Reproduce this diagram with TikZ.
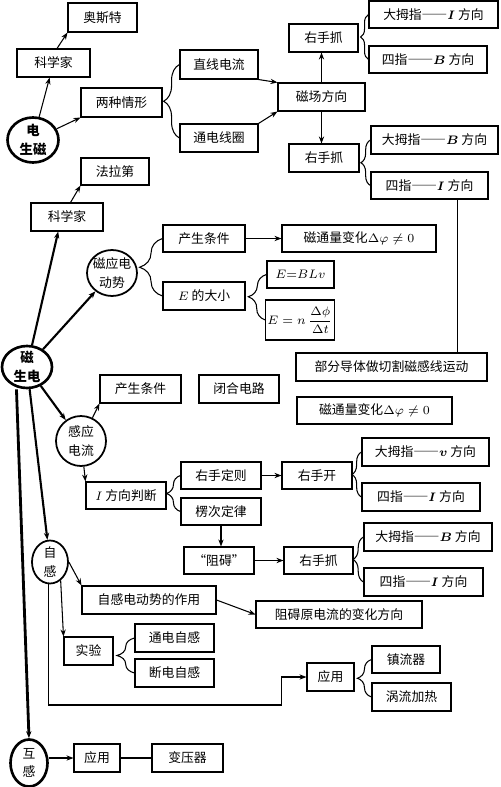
\documentclass[tikz,border=0pt]{standalone}
\usepackage{amsmath}
\usepackage{fontspec}
\setmainfont{Noto Sans CJK SC}
\newcommand\wdash{{\addfontfeatures{RawFeature=+fwid}——}}
\usetikzlibrary{shapes.geometric,arrows.meta,decorations.pathreplacing,calc}

\begin{document}
\begin{tikzpicture}[
  x=0.02cm, y=-0.02cm,
  font=\fontsize{7.3}{9}\selectfont,
  every node/.style={align=center},
  %% ─── 節點樣式定義 ────────────────────────────────────────────────
  box/.style={
    draw, line width=0.6pt, minimum height=0.56cm, inner sep=1pt},
  topic/.style={
    ellipse, draw, line width=1pt, inner sep=-3pt,
    font=\fontsize{7.3}{10.5}\selectfont},
  hub/.style={
    topic, line width=1.5pt, font=\fontsize{7.6}{10.5}\selectfont\bfseries},
  arrow/.style={-{Stealth[length=4pt,width=3pt]}, line width=0.6pt},
  barrow/.style={arrow, line width=1.2pt},
  xarrow/.style={arrow, line width=1.6pt},
  curly/.style={decorate, decoration={brace, amplitude=#1}, line width=0.6pt}
]
  \useasboundingbox (0,0) rectangle (500,787);

  %% ─── 1. 電生磁 ──────────────────────────────────────────────────
  \node[hub, minimum width=1.02cm, minimum height=0.9cm] (DSC) at (33,140) {电\\生磁};
  \node[box, minimum width=1.46cm] (Sci1) at (53.5,63) {科学家};
  \node[box, minimum width=1.38cm, minimum height=0.58cm] (Oersted) at (102.5,17.5) {奥斯特};
  \node[box, minimum width=1.62cm, minimum height=0.58cm] (TwoCase) at (121.5,102.5) {两种情形};
  \node[box, minimum width=1.56cm, minimum height=0.58cm] (Line) at (219,64.5) {直线电流};
  \node[box, minimum width=1.56cm] (Coil) at (219,138) {通电线圈};
  \node[box, minimum width=1.74cm] (Field) at (321.5,97) {磁场方向};
  \node[box, minimum width=1.38cm] (Grip1) at (323.5,38) {右手抓};
  \node[box, minimum width=2.58cm, minimum height=0.54cm] (Thumb1) at (433.5,14.5) {大拇指\wdash$\boldsymbol{I}$ 方向};
  \node[box, minimum width=2.36cm, minimum height=0.54cm] (Four1) at (428,59.5) {四指\wdash$\boldsymbol{B}$ 方向};
  \node[box, minimum width=1.40cm] (Grip2) at (324,158) {右手抓};
  \node[box, minimum width=2.54cm] (Thumb2) at (434.5,140) {大拇指\wdash$\boldsymbol{B}$ 方向};
  \node[box, minimum width=2.34cm, minimum height=0.54cm] (Four2) at (429.5,185.5) {四指\wdash$\boldsymbol{I}$ 方向};

  %% ─── 2. 磁生電：電動勢 ──────────────────────────────────────────
  \node[hub, minimum width=1.0cm, minimum height=0.84cm] (CSD) at (27,367) {磁\\生电};
  \node[box, minimum width=1.44cm] (Sci2) at (67,217) {科学家};
  \node[box, minimum width=1.36cm, minimum height=0.54cm] (Faraday) at (115,171.5) {法拉第};
  \node[topic, minimum width=1.0cm, minimum height=0.92cm] (EMF) at (112,273) {磁应电\\动势};
  \node[box, minimum width=1.64cm, minimum height=0.54cm] (Cond1) at (204,238.5) {产生条件};
  \node[box, minimum width=1.64cm] (Esize) at (204,296) {$E$ 的大小};
  \node[box, minimum width=3.08cm, minimum height=0.54cm] (Flux1) at (359,238.5) {磁通量变化$\Delta\varphi\neq0$};
  \node[box, minimum width=1.34cm, minimum height=0.54cm] (BLv) at (300.5,274.5) {$E{=}BLv$};
  \node[box, minimum width=1.32cm, minimum height=0.80cm] (Nform) at (300,320) {$E=n\,\dfrac{\Delta\phi}{\Delta t}$};
  \node[box, minimum width=3.82cm] (Cut) at (391.5,367) {部分导体做切割磁感线运动};

  %% ─── 3. 磁生電：感應電流 ────────────────────────────────────────
  \node[box, minimum width=1.62cm] (Cond2) at (140.5,389) {产生条件};
  \node[box, minimum width=1.60cm] (Closed) at (239,389) {闭合电路};
  \node[box, minimum width=3.10cm, minimum height=0.54cm] (Flux2) at (374.5,410.5) {磁通量变化$\Delta\varphi\neq0$};
  \node[topic, minimum width=1.0cm, minimum height=1.0cm] (Induced) at (81,441) {感应\\电流};
  \node[box, minimum width=1.60cm, minimum height=0.54cm] (Idir) at (126,495.5) {$I$ 方向判断};
  \node[box, minimum width=1.60cm, minimum height=0.54cm] (RHR) at (221,475.5) {右手定则};
  \node[box, minimum width=1.60cm, minimum height=0.54cm] (Lenz) at (221,511.5) {楞次定律};
  \node[box, minimum width=1.40cm, minimum height=0.54cm] (Oppose) at (219,560.5) {“阻碍”};
  \node[box, minimum width=1.40cm, minimum height=0.54cm] (Open) at (317,475.5) {右手开};
  \node[box, minimum width=2.54cm] (Thumb3) at (425.5,452) {大拇指\wdash$\boldsymbol{v}$ 方向};
  \node[box, minimum width=2.36cm] (Four3) at (421,497) {四指\wdash$\boldsymbol{I}$ 方向};
  \node[box, minimum width=1.38cm, minimum height=0.54cm] (Grip3) at (318.5,560.5) {右手抓};
  \node[box, minimum width=2.56cm] (Thumb4) at (428,537) {大拇指\wdash$\boldsymbol{B}$ 方向};
  \node[box, minimum width=2.38cm] (Four4) at (423.5,582) {四指\wdash$\boldsymbol{I}$ 方向};

  %% ─── 4. 自感與互感 ──────────────────────────────────────────────
  \node[topic, minimum width=0.72cm, minimum height=0.86cm] (Self) at (50,562) {自\\感};
  \node[box, minimum width=2.68cm] (SelfRole) at (149,600) {自感电动势的作用};
  \node[box, minimum width=3.32cm, minimum height=0.54cm] (OppChange) at (339,614.5) {阻碍原电流的变化方向};
  \node[box, minimum width=0.98cm] (Exp) at (88.5,651) {实验};
  \node[box, minimum width=1.58cm] (OnSelf) at (174.5,638) {通电自感};
  \node[box, minimum width=1.58cm] (OffSelf) at (174.5,673) {断电自感};
  \node[box, minimum width=0.94cm] (App1) at (330.5,677) {应用};
  \node[box, minimum width=1.36cm, minimum height=0.54cm] (Ballast) at (406,659.5) {镇流器};
  \node[box, minimum width=1.58cm] (Eddy) at (411.5,697) {涡流加热};
  \node[hub, minimum width=0.74cm, minimum height=0.94cm, font=\fontsize{7.3}{10.5}\selectfont] (Mutual) at (29,763) {互\\感};
  \node[box, minimum width=0.92cm] (App2) at (97,758) {应用};
  \node[box, minimum width=1.42cm] (Trans) at (187.5,758) {变压器};

  %% ─── 5. 連線 ────────────────────────────────────────────────────
  % 電生磁分支
  \draw[arrow] (DSC) -- (Sci1);
  \draw[arrow] ([xshift=2pt]Sci1.north) -- (Oersted.south west);
  \draw[arrow] (DSC) -- (TwoCase.south west);
  \draw[curly=9pt] (Coil.west) -- (Line.west);
  \draw[arrow] (Line.south east) -- (Field.north west);
  \draw[arrow] (Coil.north east) -- (Field.south west);
  \draw[arrow] (Field.north) -- (Field.north |- Grip1.south);
  \draw[arrow] (Field.south) -- (Field.south |- Grip2.north);
  \draw[curly=4.5pt] (Four1.west) -- (Thumb1.west);
  \draw[curly=5.5pt] (Four2.west) -- (Thumb2.west);
  \draw ([xshift=15.6pt]Four2.south) -- ([xshift=15.6pt]Four2.south |- Cut.north);

  % 電動勢
  \draw[barrow] (CSD) -- ([xshift=-5pt]Sci2.south);
  \draw[arrow] ([xshift=2pt]Sci2.north) -- (Faraday.south west);
  \draw[barrow] (CSD) -- (EMF);
  \draw[curly=13pt] (Esize.west) -- (Cond1.west);
  \draw[arrow] (Cond1) -- (Flux1);
  \draw[curly=10pt] (Nform.west) -- (BLv.west);

  % 感應電流
  \draw[barrow] (CSD) -- (Induced);
  \draw[arrow] (Induced) -- (Cond2.south west);
  \draw[arrow] (Induced) -- (Idir.north west);
  \draw[curly=8pt] (Lenz.west) -- (RHR.west);
  \draw[arrow] (RHR) -- (Open);
  \draw[arrow] (Lenz.south) -- (Lenz.south |- Oppose.north);
  \draw[arrow] (Oppose) -- (Grip3);
  \draw[curly=5.5pt] (Four3.west) -- (Thumb3.west);
  \draw[curly=6pt] (Four4.west) -- (Thumb4.west);

  % 自感
  \draw[barrow] (CSD) -- (Self);
  \draw[arrow] (Self.east) -- (SelfRole.north west);
  \draw[arrow] (Self.300) -- (Exp.north west);
  \draw[arrow] (SelfRole.east) -- (OppChange.west);
  \draw[curly=10pt] (OffSelf.west) -- (OnSelf.west);
  \draw[arrow] ([xshift=-1pt]Self.south) |- ($(App1.west)+(-25,28)$) |- (App1.west);
  \draw[curly=8pt] (Eddy.west) -- (Ballast.west);

  % 互感
  \draw[xarrow] ([xshift=-6pt]CSD.south) -- (Mutual.north);
  \draw[arrow] (Mutual.east |- App2.west) -- (App2.west);
  \draw[line width=0.6pt] (App2) -- (Trans);

\end{tikzpicture}
\end{document}
